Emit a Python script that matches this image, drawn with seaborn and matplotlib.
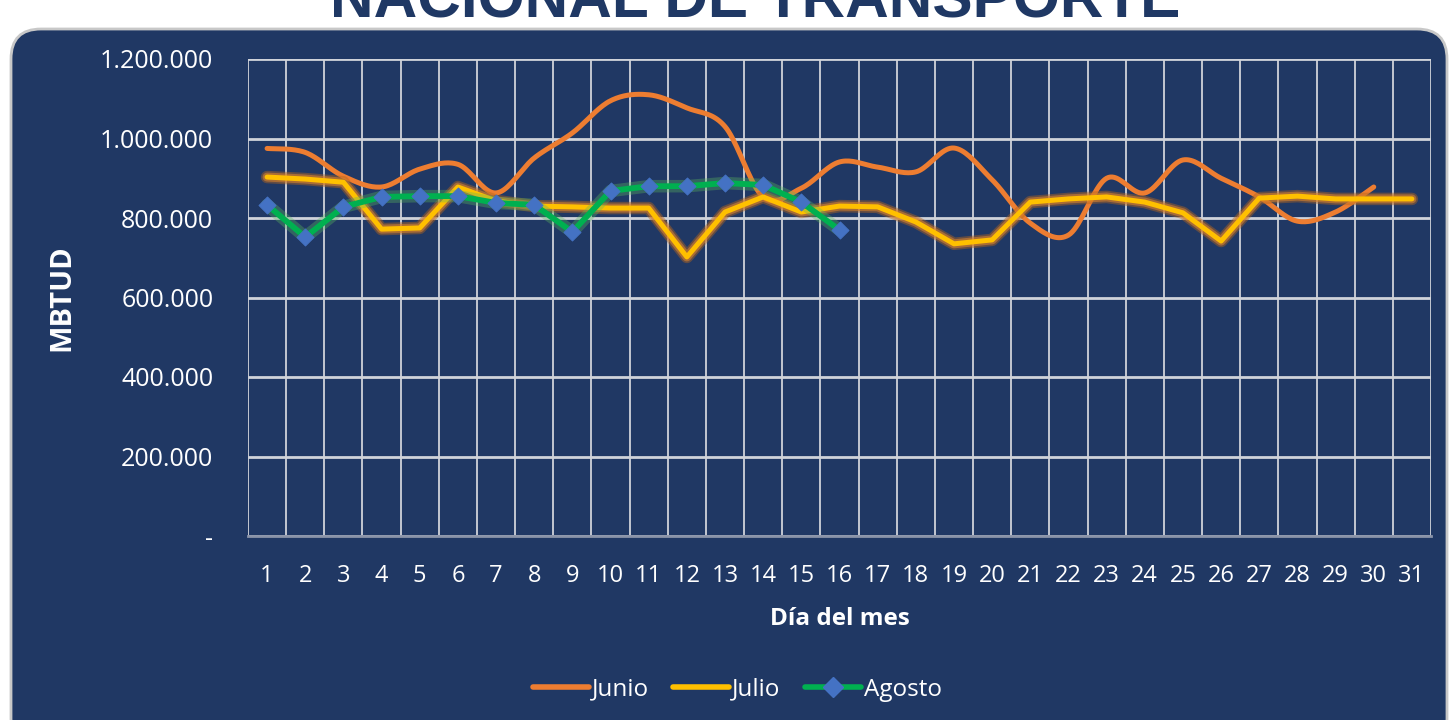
import numpy as np
import pandas as pd
import matplotlib
matplotlib.use("Agg")
import matplotlib.pyplot as plt
import matplotlib.patheffects as pe
from matplotlib.patches import FancyBboxPatch
from matplotlib.ticker import FuncFormatter
from matplotlib.lines import Line2D
import seaborn as sns

# ---------------- data ----------------
dias_junio = list(range(1, 31))
junio = [975000, 965000, 905000, 878000, 923000, 935000, 863000, 951000, 1014000, 1095000,
         1110000, 1077000, 1030000, 853000, 875000, 941000, 928000, 916000, 976000, 896000,
         787000, 757000, 900000, 863000, 946000, 900000, 853000, 792000, 815000, 878000]
dias_julio = list(range(1, 32))
julio = [903000, 898000, 890000, 772000, 775000, 878000, 843000, 830000, 828000, 825000,
         825000, 702000, 815000, 853000, 815000, 830000, 828000, 790000, 735000, 745000,
         840000, 848000, 853000, 840000, 813000, 742000, 850000, 855000, 848000, 848000,
         848000]
dias_agosto = list(range(1, 17))
agosto = [833000, 752000, 828000, 853000, 855000, 855000, 838000, 833000, 765000, 868000,
          880000, 880000, 888000, 883000, 840000, 770000]
x_ticks = list(range(1, 32))
y_ticks = [0, 200000, 400000, 600000, 800000, 1000000, 1200000]

titulo = "NACIONAL DE TRANSPORTE"
series_names = ["Junio", "Julio", "Agosto"]

# ---------------- style ----------------
sns.set_theme(style="white")
plt.rcParams["font.family"] = ["Open Sans", "DejaVu Sans"]

PANEL = "#203864"
C_JUN = "#ED7D31"
C_JUL = "#FFC000"
C_AGO = "#00B050"
C_MK = "#4472C4"
GRID = "#D0D3DA"

fig = plt.figure(figsize=(14.5, 7.2), dpi=100)
fig.patch.set_facecolor("white")

# background panel in pixel coordinates
bg = fig.add_axes([0, 0, 1, 1], zorder=0)
bg.set_xlim(0, 1450)
bg.set_ylim(720, 0)
bg.axis("off")
bg.add_patch(FancyBboxPatch((11, 29), 1436, 720, boxstyle="round,pad=0,rounding_size=30",
                            facecolor=PANEL, edgecolor="#C8C8C8", linewidth=2))
bg.text(755, 17, titulo, ha="center", va="baseline", fontsize=43.5, fontweight="bold",
        color="#1F3864", family=["Liberation Sans", "DejaVu Sans"])

ax = fig.add_axes([248 / 1450, 1 - 536 / 720, 1183 / 1450, 477 / 720], zorder=1)
ax.set_facecolor("none")


def smooth(xv, yv, n=20):
    xv = np.asarray(xv, float)
    yv = np.asarray(yv, float)
    P = np.column_stack([xv, yv])
    P = np.vstack([P[0], P, P[-1]])
    out = []
    t = np.linspace(0, 1, n, endpoint=False)[:, None]
    for i in range(1, len(P) - 2):
        p0, p1, p2, p3 = P[i - 1], P[i], P[i + 1], P[i + 2]
        c1 = p1 + (p2 - p0) / 6
        c2 = p2 - (p3 - p1) / 6
        seg = ((1 - t) ** 3) * p1 + 3 * ((1 - t) ** 2) * t * c1 + 3 * (1 - t) * t ** 2 * c2 + t ** 3 * p2
        out.append(seg)
    out.append(P[-2][None, :])
    out = np.vstack(out)
    return out[:, 0], out[:, 1]


# Junio (smoothed)
sx, sy = smooth(dias_junio, junio)
df_j = pd.DataFrame({"x": sx, "y": sy})
sns.lineplot(data=df_j, x="x", y="y", ax=ax, color=C_JUN, linewidth=3.6, sort=False,
             estimator=None, zorder=3, solid_capstyle="round")

# Julio (glow)
df_ju = pd.DataFrame({"x": dias_julio, "y": julio})
sns.lineplot(data=df_ju, x="x", y="y", ax=ax, color=C_JUL, linewidth=3.6, sort=False,
             estimator=None, zorder=4, solid_capstyle="round",
             path_effects=[pe.Stroke(linewidth=9, foreground="#B5651D", alpha=0.45),
                           pe.Stroke(linewidth=6.5, foreground="#D9822B", alpha=0.6),
                           pe.Normal()])

# Agosto (glow + diamonds)
df_a = pd.DataFrame({"x": dias_agosto, "y": agosto})
sns.lineplot(data=df_a, x="x", y="y", ax=ax, color=C_AGO, linewidth=4.2, sort=False,
             estimator=None, zorder=5, solid_capstyle="round",
             path_effects=[pe.Stroke(linewidth=9, foreground="#5CB85C", alpha=0.35),
                           pe.Normal()])
sns.scatterplot(data=df_a, x="x", y="y", ax=ax, marker="D", s=75, color=C_MK,
                edgecolor=C_MK, zorder=6)

# axes
ax.set_xlim(0.5, 31.5)
ax.set_ylim(0, 1200000)
ax.set_xticks(x_ticks)
ax.set_xticklabels([str(v) for v in x_ticks])
ax.set_xticks(np.arange(0.5, 32, 1), minor=True)
ax.set_yticks(y_ticks)
ax.yaxis.set_major_formatter(FuncFormatter(
    lambda v, p: "-" if v == 0 else f"{int(v):,}".replace(",", ".")))
ax.grid(False)
ax.grid(axis="y", which="major", color=GRID, linewidth=2, zorder=1)
ax.grid(axis="x", which="minor", color=GRID, linewidth=1.3, zorder=1)
ax.set_axisbelow(True)
for s in ["top", "right", "left"]:
    ax.spines[s].set_visible(False)
ax.spines["bottom"].set_color("#8A93A8")
ax.spines["bottom"].set_linewidth(2)
ax.tick_params(axis="x", which="both", length=0, pad=20, labelsize=17, colors="white")
ax.tick_params(axis="y", which="both", length=0, pad=25, labelsize=18, colors="white")

ax.set_xlabel("Día del mes", fontsize=17.5, fontweight="bold", color="white")
ax.set_ylabel("MBTUD", fontsize=21, fontweight="bold", color="white")
ax.xaxis.set_label_coords(0.5, -0.174)
ax.yaxis.set_label_coords(-0.157, 0.5)
ax.xaxis.label.set_va("center")
ax.yaxis.label.set_va("center")

handles = [Line2D([], [], color=C_JUN, linewidth=4, solid_capstyle="round"),
           Line2D([], [], color=C_JUL, linewidth=4, solid_capstyle="round"),
           Line2D([], [], color=C_AGO, linewidth=4, marker="D", markersize=10,
                  markerfacecolor=C_MK, markeredgecolor=C_MK, solid_capstyle="round")]
leg = fig.legend(handles, series_names, loc="center", bbox_to_anchor=(0.5086, 0.042), ncol=3,
                 frameon=False, fontsize=17.5, handlelength=2.3, handletextpad=0.12,
                 columnspacing=1.0)
for t in leg.get_texts():
    t.set_color("white")

fig.savefig("out.png", dpi=100, facecolor="white")
